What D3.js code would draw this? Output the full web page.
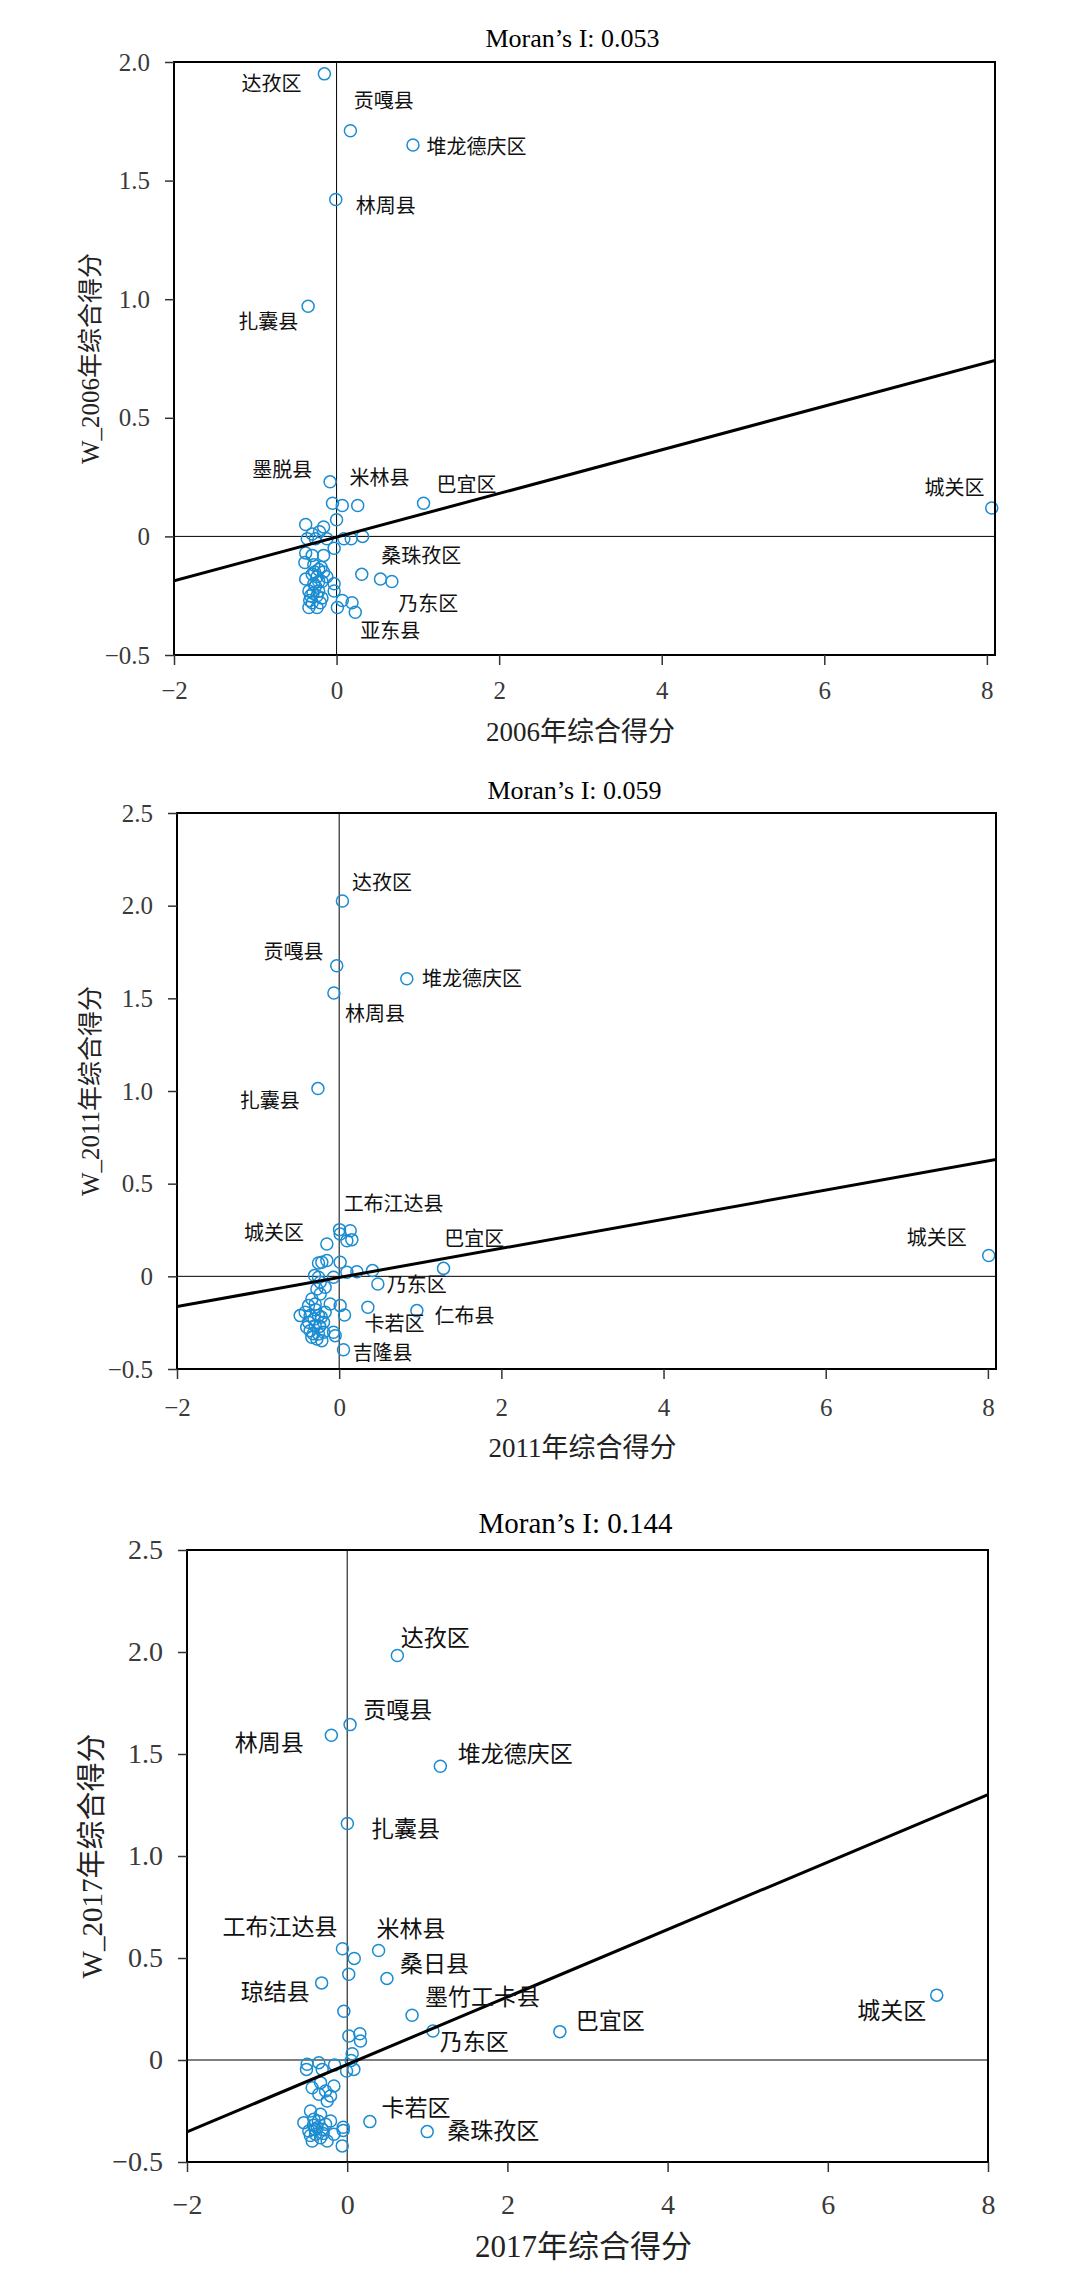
<!DOCTYPE html>
<html>
<head>
<meta charset="utf-8">
<script src="https://cdn.jsdelivr.net/npm/d3@7"></script>
<style>
  body { margin: 0; background: #fff; }
  text { font-family: "Liberation Serif", "Noto Sans CJK SC", serif; }
</style>
</head>
<body>
<svg id="chart" width="1088" height="2296"></svg>
<script>
// ---- data: [score, spatially lagged score] ----
var pts2006 = [
  [-0.15, 1.95], [0.17, 1.71], [0.94, 1.65], [-0.01, 1.42], [-0.35, 0.97], [8.06, 0.12],
  [-0.08, 0.23], [-0.05, 0.14], [0.07, 0.13], [0.26, 0.13], [1.07, 0.14], [0.00, 0.07],
  [-0.38, 0.05], [-0.16, 0.04], [-0.21, 0.02], [-0.30, 0.01], [-0.36, -0.01], [-0.26, -0.01],
  [-0.12, -0.01], [0.09, -0.01], [0.18, -0.01], [0.32, 0.00], [-0.03, -0.05], [-0.38, -0.07],
  [-0.30, -0.08], [-0.16, -0.08], [-0.39, -0.11], [-0.28, -0.12], [-0.22, -0.14], [-0.16, -0.15],
  [-0.30, -0.16], [-0.38, -0.18], [-0.24, -0.17], [-0.18, -0.19], [-0.12, -0.17], [-0.28, -0.20],
  [-0.34, -0.23], [-0.22, -0.23], [-0.32, -0.25], [-0.24, -0.25], [-0.18, -0.26], [-0.30, -0.28],
  [-0.34, -0.30], [-0.24, -0.30], [-0.03, -0.20], [-0.03, -0.23], [0.07, -0.27], [0.01, -0.30],
  [0.19, -0.28], [0.23, -0.32], [0.31, -0.16], [0.54, -0.18], [0.68, -0.19], [-0.26, -0.21],
  [-0.20, -0.28], [-0.27, -0.15], [-0.33, -0.27], [-0.22, -0.19], [-0.29, -0.24], [-0.19, -0.13]
];
var labels2006 = [
  ["达孜区", -0.43, 1.906, "end"], ["贡嘎县", 0.21, 1.834, "start"], ["堆龙德庆区", 1.107, 1.64, "start"],
  ["林周县", 0.236, 1.395, "start"], ["扎囊县", -0.47, 0.905, "end"], ["墨脱县", -0.30, 0.279, "end"],
  ["米林县", 0.16, 0.245, "start"], ["巴宜区", 1.23, 0.217, "start"], ["城关区", 7.97, 0.204, "end"],
  ["桑珠孜区", 0.55, -0.083, "start"], ["乃东区", 0.76, -0.283, "start"], ["亚东县", 0.29, -0.40, "start"]
];
var fit2006 = { slope: 0.092, intercept: -0.003 };

var pts2011 = [
  [0.04, 2.025], [-0.03, 1.676], [0.834, 1.606], [-0.065, 1.529], [-0.262, 1.013], [8.01, 0.112],
  [1.287, 0.043], [0.004, 0.252], [0.136, 0.246], [0.012, 0.228], [0.095, 0.192], [0.156, 0.198],
  [-0.152, 0.174], [-0.255, 0.072], [-0.152, 0.085], [-0.214, 0.076], [0.012, 0.076], [-0.304, 0.004],
  [-0.255, -0.005], [-0.07, -0.005], [0.095, 0.022], [0.218, 0.025], [0.411, 0.031], [0.477, -0.041],
  [-0.234, -0.032], [-0.173, -0.059], [-0.275, -0.068], [-0.337, -0.122], [-0.234, -0.095], [-0.378, -0.158],
  [-0.296, -0.149], [-0.111, -0.149], [0.012, -0.158], [0.354, -0.167], [0.958, -0.185], [-0.481, -0.212],
  [-0.419, -0.194], [-0.358, -0.212], [-0.255, -0.212], [-0.173, -0.194], [0.066, -0.209], [-0.378, -0.248],
  [-0.296, -0.266], [-0.193, -0.248], [-0.358, -0.293], [-0.255, -0.311], [-0.337, -0.329], [-0.275, -0.338],
  [-0.193, -0.302], [-0.07, -0.302], [-0.049, -0.320], [0.053, -0.396], [-0.40, -0.275], [-0.214, -0.347],
  [-0.31, -0.23], [-0.24, -0.27], [-0.32, -0.31], [-0.22, -0.22], [-0.29, -0.18]
];
var labels2011 = [
  ["达孜区", 0.158, 2.124, "start"], ["贡嘎县", -0.193, 1.75, "end"], ["堆龙德庆区", 1.022, 1.606, "start"],
  ["林周县", 0.072, 1.413, "start"], ["扎囊县", -0.485, 0.946, "end"], ["工布江达县", 0.055, 0.389, "start"],
  ["城关区", -0.433, 0.233, "end"], ["巴宜区", 1.297, 0.204, "start"], ["城关区", 7.74, 0.208, "end"],
  ["乃东区", 0.586, -0.049, "start"], ["仁布县", 1.177, -0.213, "start"], ["卡若区", 0.311, -0.259, "start"],
  ["吉隆县", 0.166, -0.416, "start"]
];
var fit2011 = { slope: 0.0785, intercept: -0.006 };

var pts2017 = [
  [0.626, 1.983], [0.036, 1.644], [-0.198, 1.592], [1.163, 1.440], [0.002, 1.159], [-0.059, 0.545],
  [0.392, 0.537], [0.088, 0.498], [0.496, 0.40], [0.019, 0.42], [-0.319, 0.378], [-0.042, 0.239],
  [0.81, 0.219], [1.07, 0.142], [2.655, 0.139], [7.36, 0.318], [0.021, 0.118], [0.158, 0.129],
  [0.166, 0.093], [0.062, 0.031], [0.05, -0.002], [0.083, -0.046], [-0.008, -0.054], [-0.50, -0.021],
  [-0.508, -0.046], [-0.354, -0.013], [-0.312, -0.046], [-0.158, -0.024], [-0.437, -0.136], [-0.333, -0.111],
  [-0.27, -0.152], [-0.166, -0.127], [-0.354, -0.168], [-0.25, -0.201], [-0.208, -0.176], [-0.458, -0.25],
  [-0.541, -0.307], [-0.416, -0.291], [-0.333, -0.266], [-0.479, -0.348], [-0.375, -0.332], [-0.27, -0.315],
  [-0.208, -0.299], [-0.437, -0.397], [-0.333, -0.381], [-0.25, -0.397], [-0.166, -0.364], [-0.05, -0.345],
  [-0.062, -0.421], [0.283, -0.302], [0.999, -0.351], [-0.395, -0.364], [-0.312, -0.340], [-0.05, -0.33],
  [-0.42, -0.32], [-0.36, -0.30], [-0.46, -0.37], [-0.30, -0.36], [-0.40, -0.34]
];
var labels2017 = [
  ["达孜区", 0.67, 2.067, "start"], ["贡嘎县", 0.20, 1.716, "start"], ["林周县", -0.544, 1.555, "end"],
  ["堆龙德庆区", 1.38, 1.50, "start"], ["扎囊县", 0.296, 1.132, "start"], ["工布江达县", -0.12, 0.654, "end"],
  ["米林县", 0.366, 0.642, "start"], ["桑日县", 0.66, 0.473, "start"], ["琼结县", -0.466, 0.336, "end"],
  ["墨竹工卡县", 0.972, 0.311, "start"], ["巴宜区", 2.853, 0.189, "start"], ["乃东区", 1.154, 0.087, "start"],
  ["城关区", 7.23, 0.239, "end"], ["卡若区", 0.427, -0.236, "start"], ["桑珠孜区", 1.25, -0.346, "start"]
];
var fit2017 = { slope: 0.1654, intercept: -0.022 };

var titles = ["Moran’s I: 0.053", "Moran’s I: 0.059", "Moran’s I: 0.144"];
var xLabels = ["2006年综合得分", "2011年综合得分", "2017年综合得分"];
var yLabels = ["W_2006年综合得分", "W_2011年综合得分", "W_2017年综合得分"];
var xTicks = [-2, 0, 2, 4, 6, 8];
var yTicks1 = [-0.5, 0, 0.5, 1.0, 1.5, 2.0];
var yTicks23 = [-0.5, 0, 0.5, 1.0, 1.5, 2.0, 2.5];

// ---- layout of the three panels ----
var panels = [
  { pts: pts2006, labels: labels2006, fit: fit2006, title: titles[0], xlab: xLabels[0], ylab: yLabels[0],
    xDomain: [-2, 8.1], yDomain: [-0.5, 2.0], yTicks: yTicks1,
    box: { l: 174, r: 995, t: 62, b: 655 }, titleY: 38, tickOff: 35, xlabY: 732, ylabX: 90,
    fTick: 25, fTitle: 26, fAxis: 27, fLab: 20 },
  { pts: pts2011, labels: labels2011, fit: fit2011, title: titles[1], xlab: xLabels[1], ylab: yLabels[1],
    xDomain: [-2, 8.1], yDomain: [-0.5, 2.5], yTicks: yTicks23,
    box: { l: 177, r: 996, t: 813, b: 1369 }, titleY: 790, tickOff: 38, xlabY: 1448, ylabX: 90,
    fTick: 25, fTitle: 26, fAxis: 27, fLab: 20 },
  { pts: pts2017, labels: labels2017, fit: fit2017, title: titles[2], xlab: xLabels[2], ylab: yLabels[2],
    xDomain: [-2, 8], yDomain: [-0.5, 2.5], yTicks: yTicks23,
    box: { l: 187, r: 988, t: 1550, b: 2162 }, titleY: 1523, tickOff: 42, xlabY: 2246, ylabX: 92,
    fTick: 28, fTitle: 29, fAxis: 31, fLab: 23 }
];

var svg = d3.select("#chart");
var blue = "#1a8cd2";

panels.forEach(function(p, i){
  var b = p.box;
  var x = d3.scaleLinear().domain(p.xDomain).range([b.l, b.r]);
  var y = d3.scaleLinear().domain(p.yDomain).range([b.b, b.t]);
  var g = svg.append("g");

  g.append("clipPath").attr("id", "clip" + i)
    .append("rect").attr("x", b.l).attr("y", b.t).attr("width", b.r - b.l).attr("height", b.b - b.t);

  // zero lines
  g.append("line").attr("x1", x(0)).attr("x2", x(0)).attr("y1", b.t).attr("y2", b.b)
    .attr("stroke", "#000").attr("stroke-width", 1);
  g.append("line").attr("x1", b.l).attr("x2", b.r).attr("y1", y(0)).attr("y2", y(0))
    .attr("stroke", "#000").attr("stroke-width", 1);

  // points
  g.append("g").selectAll("circle").data(p.pts).enter().append("circle")
    .attr("cx", function(d){ return x(d[0]); })
    .attr("cy", function(d){ return y(d[1]); })
    .attr("r", 6)
    .attr("fill", "none")
    .attr("stroke", blue)
    .attr("stroke-width", 1.5);

  // fitted line
  var line = d3.line().x(function(d){ return x(d); })
    .y(function(d){ return y(p.fit.intercept + p.fit.slope * d); });
  g.append("path").datum(p.xDomain).attr("d", line)
    .attr("clip-path", "url(#clip" + i + ")")
    .attr("fill", "none").attr("stroke", "#000").attr("stroke-width", 3);

  // county names
  g.append("g").selectAll("text").data(p.labels).enter().append("text")
    .attr("x", function(d){ return x(d[1]); })
    .attr("y", function(d){ return y(d[2]); })
    .attr("dy", "0.35em")
    .attr("text-anchor", function(d){ return d[3]; })
    .attr("font-size", p.fLab)
    .attr("fill", "#111")
    .text(function(d){ return d[0]; });

  // frame
  g.append("rect").attr("x", b.l).attr("y", b.t).attr("width", b.r - b.l).attr("height", b.b - b.t)
    .attr("fill", "none").attr("stroke", "#000").attr("stroke-width", 2);

  // axes
  var yAxis = g.append("g").attr("transform", "translate(" + b.l + ",0)")
    .call(d3.axisLeft(y).tickValues(p.yTicks).tickSize(9).tickPadding(15)
      .tickFormat(function(d){ return d === 0 ? "0" : d3.format(".1f")(d); }));
  var xAxis = g.append("g").attr("transform", "translate(0," + b.b + ")")
    .call(d3.axisBottom(x).tickValues(xTicks).tickSize(10).tickFormat(d3.format("d")));
  [yAxis, xAxis].forEach(function(a){
    a.select(".domain").remove();
    a.selectAll(".tick line").attr("stroke", "#333").attr("stroke-width", 1.5);
    a.selectAll(".tick text").attr("font-size", p.fTick).attr("fill", "#3a3a3a")
      .style("font-family", "Liberation Serif, serif");
  });
  xAxis.selectAll(".tick text").attr("y", p.tickOff).attr("dy", "0.35em");

  // titles
  g.append("text").attr("x", (b.l + b.r) / 2 - 12).attr("y", p.titleY).attr("dy", "0.35em")
    .attr("text-anchor", "middle").attr("font-size", p.fTitle).attr("fill", "#000").text(p.title);
  g.append("text").attr("x", (b.l + b.r) / 2 - 4).attr("y", p.xlabY).attr("dy", "0.35em")
    .attr("text-anchor", "middle").attr("font-size", p.fAxis).attr("fill", "#222").text(p.xlab);
  g.append("text")
    .attr("transform", "translate(" + p.ylabX + "," + (b.t + b.b) / 2 + ") rotate(-90)")
    .attr("dy", "0.35em")
    .attr("text-anchor", "middle").attr("font-size", p.fAxis - 2).attr("fill", "#222").text(p.ylab);
});
</script>
</body>
</html>
